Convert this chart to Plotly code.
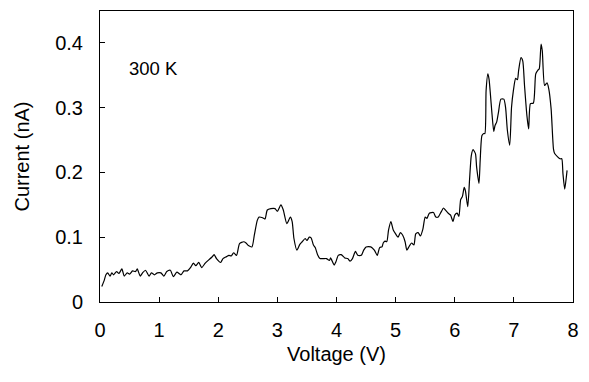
import plotly.graph_objects as go

voltage = [0.03,0.07,0.10,0.13,0.17,0.20,0.23,0.28,0.32,0.37,0.41,0.46,0.50,0.55,0.60,0.63,0.68,0.72,0.77,0.83,
           0.87,0.92,0.97,1.03,1.08,1.13,1.19,1.24,1.30,1.37,1.42,1.48,1.53,1.58,1.62,1.67,1.72,1.78,1.84,1.89,
           1.93,1.97,2.04,2.08,2.14,2.18,2.22,2.26,2.31,2.36,2.43,2.47,2.51,2.57,2.61,2.66,2.69,2.75,2.79,2.83,
           2.89,2.96,3.00,3.06,3.10,3.16,3.22,3.25,3.28,3.33,3.38,3.42,3.47,3.50,3.54,3.57,3.61,3.64,3.68,3.72,
           3.78,3.83,3.88,3.90,3.96,3.99,4.03,4.08,4.14,4.19,4.23,4.27,4.32,4.36,4.42,4.46,4.50,4.58,4.64,4.69,
           4.73,4.77,4.79,4.82,4.85,4.88,4.92,4.96,5.00,5.04,5.08,5.12,5.16,5.19,5.23,5.27,5.31,5.34,5.38,5.42,
           5.46,5.50,5.53,5.57,5.64,5.68,5.72,5.77,5.81,5.84,5.89,5.93,5.97,6.00,6.04,6.07,6.10,6.13,6.16,6.18,
           6.22,6.25,6.28,6.31,6.35,6.37,6.41,6.43,6.46,6.49,6.51,6.53,6.56,6.58,6.60,6.63,6.66,6.68,6.71,6.74,
           6.78,6.83,6.86,6.89,6.93,6.96,6.99,7.03,7.06,7.08,7.12,7.15,7.18,7.22,7.25,7.28,7.33,7.37,7.41,7.43,
           7.46,7.48,7.52,7.56,7.59,7.63,7.67,7.69,7.74,7.78,7.81,7.83,7.86,7.89,7.90]
current = [0.024,0.033,0.042,0.045,0.040,0.045,0.042,0.047,0.044,0.051,0.040,0.045,0.043,0.048,0.047,0.051,0.040,0.045,0.049,0.040,
           0.045,0.042,0.045,0.045,0.040,0.047,0.049,0.039,0.046,0.042,0.048,0.048,0.053,0.060,0.056,0.061,0.053,0.060,0.065,0.069,
           0.073,0.067,0.061,0.067,0.070,0.072,0.071,0.076,0.072,0.090,0.093,0.091,0.087,0.085,0.103,0.126,0.131,0.130,0.128,0.142,
           0.144,0.144,0.140,0.150,0.142,0.121,0.131,0.124,0.098,0.080,0.089,0.093,0.098,0.095,0.100,0.099,0.088,0.084,0.073,0.067,
           0.067,0.067,0.064,0.068,0.057,0.062,0.072,0.073,0.068,0.067,0.063,0.067,0.078,0.072,0.072,0.080,0.085,0.085,0.080,0.072,
           0.084,0.085,0.091,0.094,0.093,0.111,0.124,0.111,0.105,0.100,0.107,0.103,0.093,0.080,0.086,0.091,0.088,0.105,0.107,0.102,
           0.112,0.131,0.129,0.137,0.138,0.131,0.131,0.139,0.145,0.142,0.137,0.134,0.124,0.134,0.137,0.132,0.158,0.163,0.177,0.172,
           0.147,0.188,0.226,0.235,0.229,0.208,0.183,0.218,0.257,0.260,0.260,0.326,0.352,0.344,0.324,0.290,0.263,0.272,0.278,0.293,
           0.313,0.313,0.300,0.265,0.242,0.300,0.325,0.345,0.343,0.357,0.377,0.372,0.334,0.288,0.267,0.306,0.307,0.352,0.358,0.360,
           0.398,0.388,0.334,0.338,0.329,0.298,0.236,0.229,0.224,0.221,0.221,0.198,0.174,0.195,0.203]

x_ticks = [0, 1, 2, 3, 4, 5, 6, 7, 8]
y_ticks = [0, 0.1, 0.2, 0.3, 0.4]
y_tick_text = ["0", "0.1", "0.2", "0.3", "0.4"]

FONT = "Liberation Sans, Arial, sans-serif"

fig = go.Figure()
fig.add_trace(go.Scatter(x=voltage, y=current, mode="lines",
                         line=dict(color="black", width=1.2, shape="spline", smoothing=0.6),
                         showlegend=False, hoverinfo="skip"))

fig.add_annotation(x=0.45, y=0.36, xref="x", yref="y", text="300 K", showarrow=False,
                   xanchor="left", yanchor="middle", font=dict(size=18.5, color="black", family=FONT))

axis_common = dict(showline=True, linecolor="black", linewidth=1, mirror=True,
                   ticks="inside", ticklen=5, tickcolor="black", tickwidth=1,
                   showgrid=False, zeroline=False,
                   tickfont=dict(size=20, color="black", family=FONT))

fig.update_xaxes(range=[0, 8], tickvals=x_ticks, ticktext=[str(t) for t in x_ticks],
                 title=dict(text="Voltage (V)", font=dict(size=20, color="black", family=FONT), standoff=6),
                 ticklabelstandoff=10, **axis_common)
fig.update_yaxes(range=[0, 0.449], tickvals=y_ticks, ticktext=y_tick_text,
                 title=dict(text="Current (nA)", font=dict(size=20, color="black", family=FONT), standoff=20),
                 ticklabelstandoff=12, **axis_common)

fig.update_layout(width=589, height=382, margin=dict(l=100, r=10, t=10, b=80),
                  paper_bgcolor="white", plot_bgcolor="white", font=dict(family=FONT))

fig.write_html("out.html")
